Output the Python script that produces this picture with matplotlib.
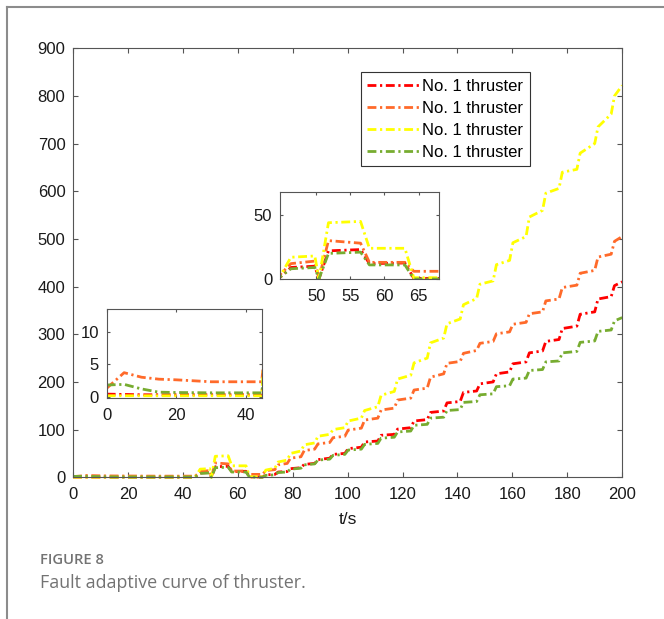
import matplotlib
matplotlib.use("Agg")
import matplotlib.pyplot as plt
from matplotlib.lines import Line2D

plt.rcParams['font.family'] = ['Liberation Sans', 'DejaVu Sans']

# Series names and colours
labels = ['No. 1 thruster', 'No. 1 thruster', 'No. 1 thruster', 'No. 1 thruster']
colors = ['#ff0000', '#ff6a2a', '#ffff00', '#77ac30']

# Start-up and fault phase (t up to 68 s)
t_early = [0, 5, 10, 15, 20, 30, 44.5, 46.3, 49.8, 50.4, 51.8, 56.5, 57.8, 63.0, 64.3, 68]
red_early = [0.4, 0.35, 0.3, 0.3, 0.3, 0.3, 0.3, 9, 10, 0, 22, 23, 12, 12.5, 0.5, 0.5]
orange_early = [1.3, 3.7, 3.0, 2.7, 2.6, 2.3, 2.3, 12, 14, 0.5, 30, 28, 13, 13, 6, 6]
yellow_early = [0.15, 0.15, 0.15, 0.15, 0.15, 0.15, 0.15, 17, 18, 0, 44, 45, 24, 24, 1, 1]
green_early = [1.8, 1.9, 1.2, 0.7, 0.65, 0.6, 0.6, 8, 9, 0, 20, 21, 11, 11, 0, 0]

# Staircase growth: value just before (lo) and after (hi) each step
step_t = [69, 73.5, 78, 83, 88, 93.5, 99, 105, 111, 117, 123, 129,
          135, 141, 147, 153, 159, 165, 171, 177, 183.5, 190, 196]
RISE = 1.2

red_lo = [0.5, 6, 12, 20, 29, 40, 50, 63, 76, 90, 104, 121,
          139, 159, 181, 200, 221, 242, 265, 289, 317, 347, 379]
red_hi = [5, 11, 18, 27, 37, 48, 60, 74, 88, 101, 118, 136,
          156, 178, 196, 217, 238, 261, 285, 312, 342, 374, 402]
red_end = 410

orange_lo = [6, 16, 29, 43, 59, 73, 86, 103, 124, 145, 166, 187,
             217, 243, 266, 285, 305, 325, 347, 374, 403, 434, 468]
orange_hi = [14, 26, 40, 56, 70, 83, 99, 120, 141, 162, 183, 210,
             239, 260, 281, 301, 321, 343, 370, 398, 428, 462, 495]
orange_end = 505

yellow_lo = [1, 19, 36, 55, 72, 90, 104, 124, 148, 180, 214, 250,
             292, 332, 375, 412, 455, 505, 560, 606, 646, 700, 762]
yellow_hi = [15, 32, 50, 68, 86, 100, 118, 140, 172, 206, 240, 282,
             322, 362, 405, 446, 492, 546, 596, 640, 680, 735, 800]
yellow_end = 822

green_lo = [0, 5, 11, 19, 28, 38, 48, 59, 71, 84, 97, 111,
            126, 142, 159, 175, 192, 208, 226, 244, 264, 286, 309]
green_hi = [4, 10, 17, 26, 36, 46, 57, 69, 82, 95, 109, 124,
            140, 157, 173, 190, 206, 224, 242, 261, 283, 306, 328]
green_end = 335


def build(early, lo, hi, end):
    t = list(t_early)
    v = list(early)
    for s, a, b in zip(step_t, lo, hi):
        t += [s, s + RISE]
        v += [a, b]
    t.append(200)
    v.append(end)
    return t, v


series = [
    build(red_early, red_lo, red_hi, red_end),
    build(orange_early, orange_lo, orange_hi, orange_end),
    build(yellow_early, yellow_lo, yellow_hi, yellow_end),
    build(green_early, green_lo, green_hi, green_end),
]

AX_COL = '#555555'
DASH = (3.2, 1.3, 0.8, 1.3)
FS = 12


def style_axes(ax, tlen, xpad, ypad):
    for sp in ax.spines.values():
        sp.set_color(AX_COL)
        sp.set_linewidth(0.8)
    ax.tick_params(direction='in', top=True, right=True, length=tlen,
                   width=0.8, color=AX_COL, labelsize=FS, labelcolor='#1a1a1a')
    ax.tick_params(axis='x', pad=xpad)
    ax.tick_params(axis='y', pad=ypad)


fig = plt.figure(figsize=(6.64, 6.19), dpi=100)
ax = fig.add_axes([0.110, 0.229, 0.827, 0.693])

for (t, v), c, lab in zip(series, colors, labels):
    ax.plot(t, v, color=c, lw=2.0, dashes=DASH, label=lab, clip_on=False)

ax.set_xlim(0, 200)
ax.set_ylim(0, 900)
ax.set_xticks(range(0, 201, 20))
ax.set_yticks(range(0, 901, 100))
style_axes(ax, 3.6, 7, 5.5)
ax.set_xlabel('t/s', fontsize=12.5, labelpad=7, color='#1a1a1a')

leg = ax.legend(loc='upper left', bbox_to_anchor=(0.5246, 0.944), borderaxespad=0,
                fontsize=FS, handlelength=3.1, handletextpad=0.2,
                labelspacing=0.42, borderpad=0.38, fancybox=False, framealpha=1)
leg.get_frame().set_edgecolor('#333333')
leg.get_frame().set_linewidth(0.8)

# zoom on the fault window
ins1 = fig.add_axes([0.4217, 0.5493, 0.2395, 0.1405])
for (t, v), c in zip(series, colors):
    ins1.plot(t, v, color=c, lw=2.0, dashes=DASH)
ins1.set_xlim(44.7, 68)
ins1.set_ylim(0, 68)
ins1.set_xticks([50, 55, 60, 65])
ins1.set_yticks([0, 50])
style_axes(ins1, 2.5, 7, 5.5)

# zoom on the start-up phase
ins2 = fig.add_axes([0.1607, 0.357, 0.2334, 0.1438])
for (t, v), c in zip(series, colors):
    ins2.plot(t, v, color=c, lw=2.0, dashes=DASH)
ins2.set_xlim(0, 44.5)
ins2.set_ylim(-0.2, 13.5)
ins2.set_xticks([0, 20, 40])
ins2.set_yticks([0, 5, 10])
style_axes(ins2, 2.5, 7, 5.5)

# caption and page frame
fig.text(40 / 664, 1 - 560 / 619, 'FIGURE 8', va='center', ha='left',
         fontsize=10.6, color='#737373', family='Open Sans', weight='semibold')
fig.text(40 / 664, 1 - 583 / 619, 'Fault adaptive curve of thruster.', va='center',
         ha='left', fontsize=12.85, color='#737373', family='Open Sans')
fig.add_artist(Line2D([7 / 664, 7 / 664], [0, 1 - 7 / 619], transform=fig.transFigure,
                      color='#8c8c8c', lw=1.5))
fig.add_artist(Line2D([7 / 664, 1], [1 - 7 / 619, 1 - 7 / 619], transform=fig.transFigure,
                      color='#8c8c8c', lw=1.5))

fig.savefig('out.png', dpi=100)
